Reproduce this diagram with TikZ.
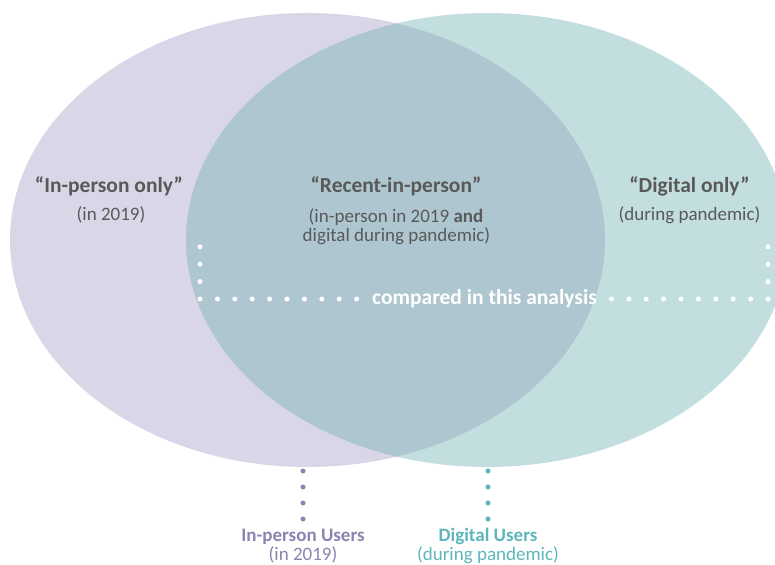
\documentclass[tikz,border=0pt]{standalone}
\usepackage{fontspec}
\setmainfont{Carlito}
\usetikzlibrary{positioning}
\definecolor{inpfill}{RGB}{217,214,232}
\definecolor{digfill}{RGB}{195,222,223}
\definecolor{bothfill}{RGB}{174,198,208}
\definecolor{txtgray}{RGB}{89,89,89}
\definecolor{inpdot}{RGB}{139,131,176}
\definecolor{digdot}{RGB}{92,182,186}

\begin{document}
\begin{tikzpicture}[x=1pt,y=-1pt,
  grouptitle/.style={font=\fontsize{21.5}{24}\selectfont\bfseries,text=txtgray,anchor=base},
  groupsub/.style={font=\fontsize{19}{20}\selectfont,text=txtgray,anchor=base},
  dotline/.style={line width=5pt,line cap=round,dash pattern=on 0pt off #1},
  userlabel/.style={font=\fontsize{19}{20}\selectfont,anchor=base}]
\useasboundingbox (0,0) rectangle (775,564);
\clip (0,0) rectangle (775,564);
% the two user groups and their overlap
\fill[inpfill] (307.5,240) ellipse [x radius=297.5pt,y radius=227pt];
\fill[digfill] (487,240) ellipse [x radius=301pt,y radius=227pt];
\begin{scope}
\clip (307.5,240) ellipse [x radius=297.5pt,y radius=227pt];
\fill[bothfill] (487,240) ellipse [x radius=301pt,y radius=227pt];
\end{scope}
% group texts
\node[grouptitle] (inpTitle) at (109,192) {“In-person only”};
\node[groupsub] (inpSub) at (111,220) {(in 2019)};
\node[grouptitle] (bothTitle) at (396,192) {“Recent-in-person”};
\node[groupsub] (bothSubA) at (396,222) {(in-person in 2019 \textbf{and}};
\node[groupsub] (bothSubB) at (396.5,241) {digital during pandemic)};
\node[grouptitle] (digTitle) at (689.5,192) {“Digital only”};
\node[groupsub] (digSub) at (689.5,220) {(during pandemic)};
% bracket over the compared groups
\node[font=\fontsize{21.5}{24}\selectfont\bfseries,text=white] (cmp) at (484.5,299) {compared in this analysis};
\coordinate (cmpL) at (200,246.8);
\coordinate (cmpR) at (768,246.8);
\draw[dotline=17.4pt,white] (cmpL) |- (cmp.west);
\draw[dotline=17.4pt,white] (cmpR) |- (cmp.east);
% user labels below
\node[userlabel,text=inpdot,font=\fontsize{19}{20}\selectfont\bfseries] (ipUser) at (303,541) {In-person Users};
\node[userlabel,text=inpdot] (ipYear) at (303,560) {(in 2019)};
\node[userlabel,text=digdot,font=\fontsize{19}{20}\selectfont\bfseries] (dgUser) at (488,541) {Digital Users};
\node[userlabel,text=digdot] (dgYear) at (488,560) {(during pandemic)};
\coordinate (ipTop) at (303,471);
\coordinate (dgTop) at (488,471);
\draw[dotline=16pt,inpdot] (ipTop) -- (ipUser.north);
\draw[dotline=16pt,digdot] (dgTop) -- (dgUser.north);
\end{tikzpicture}
\end{document}
